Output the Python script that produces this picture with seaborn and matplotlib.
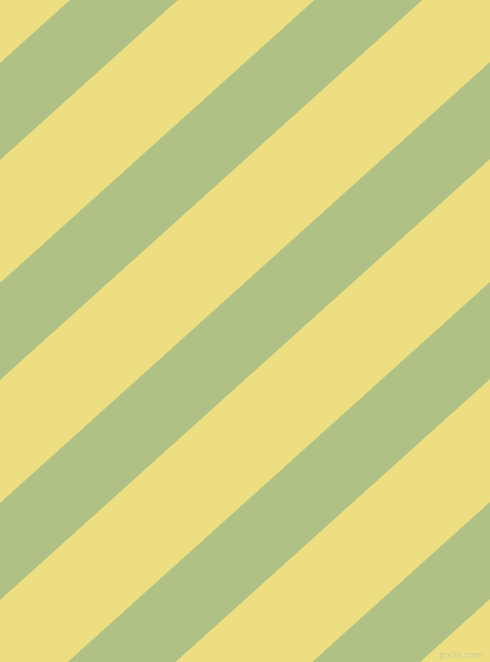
import numpy as np
import matplotlib
matplotlib.use("Agg")
import matplotlib.pyplot as plt
import seaborn as sns

# stripe edges, as y + slope*x = c (pixel units, y down)
slope = 0.9
band_start = [63, 283, 503, 723, 943]
band_end = [160, 380, 600, 820, 1040]
width, height = 490, 662

yellow = "#eede82"
green = "#afc184"

sns.set_style("white")
fig = plt.figure(figsize=(4.9, 6.62), dpi=100)
ax = fig.add_axes([0, 0, 1, 1])
ax.set_facecolor(yellow)

x = np.linspace(0, width, 50)
for c0, c1 in zip(band_start, band_end):
    ax.fill_between(x, c0 - slope * x, c1 - slope * x, color=green, linewidth=0)

ax.text(461, 655, "pixlis.com", fontsize=6.5, color="#c6d09c",
        ha="center", va="center")

ax.set_xlim(0, width)
ax.set_ylim(height, 0)
ax.axis("off")
fig.patch.set_facecolor(yellow)
fig.savefig("out.png", dpi=100, facecolor=yellow)
